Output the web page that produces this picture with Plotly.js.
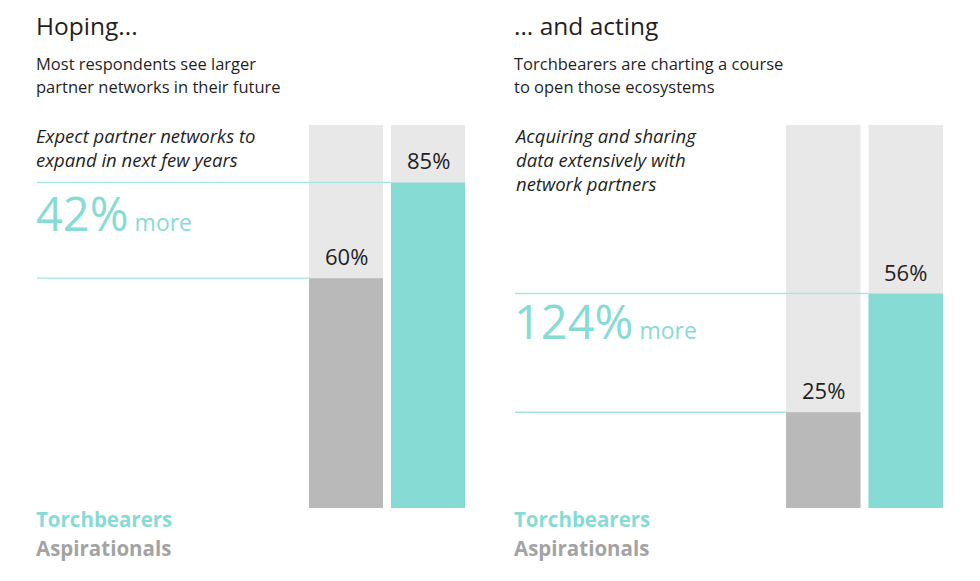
<!DOCTYPE html>
<html>
<head>
<meta charset="utf-8">
<script src="https://cdn.plot.ly/plotly-3.0.1.min.js"></script>
<style>html,body{margin:0;padding:0;background:#fff;}#chart{width:980px;height:581px;}</style>
</head>
<body>
<div id="chart"></div>
<script>
// ---- data ----
var groups = ["Aspirationals", "Torchbearers"];
var fullScale = [100, 100];
var leftValues = [60, 85];
var rightValues = [25, 56];
var leftTitle = "Hoping...";
var leftSubtitle = ["Most respondents see larger", "partner networks in their future"];
var leftQuestion = ["Expect partner networks to", "expand in next few years"];
var rightTitle = "... and acting";
var rightSubtitle = ["Torchbearers are charting a course", "to open those ecosystems"];
var rightQuestion = ["Acquiring and sharing", "data extensively with", "network partners"];

// ---- style ----
var W = 980, H = 581, T = 125, B = 73;
var teal = "#86dcd5", grayBar = "#b9b9b9", bgBar = "#e8e8e8", lineCol = "#a6e6e0";
var dark = "#1f1f1f", legendGray = "#a3a3a3";
var FONT = "'Open Sans', 'Noto Sans', sans-serif";
var bargap = 8 / 82;
var leftDomain = [305 / W, 469 / W];
var rightDomain = [782 / W, 947 / W];

function px(x) { return x / W; }
function py(y) { return (H - B - y) / (H - T - B); }
function barLeft(dom, idx) {
  var cw = (dom[1] - dom[0]) / 2;
  var bw = cw * (1 - bargap);
  return dom[0] + (idx + 0.5) * cw - bw / 2;
}
function pct(v) { return v + "%"; }
function more(vals) { return Math.round((vals[1] - vals[0]) / vals[0] * 100) + "%"; }

var traces = [
  {type: "bar", x: groups, y: fullScale, xaxis: "x", yaxis: "y", marker: {color: bgBar}, hoverinfo: "skip", showlegend: false},
  {type: "bar", x: groups, y: leftValues, xaxis: "x", yaxis: "y", marker: {color: [grayBar, teal]}, hoverinfo: "skip", showlegend: false},
  {type: "bar", x: groups, y: fullScale, xaxis: "x2", yaxis: "y", marker: {color: bgBar}, hoverinfo: "skip", showlegend: false},
  {type: "bar", x: groups, y: rightValues, xaxis: "x2", yaxis: "y", marker: {color: [grayBar, teal]}, hoverinfo: "skip", showlegend: false}
];

var ann = [];
function txt(text, x, y, size, opts) {
  opts = opts || {};
  ann.push({
    text: text, xref: "paper", yref: "paper", x: px(x), y: py(y), xshift: -3,
    xanchor: "left", yanchor: opts.yanchor || "middle", align: "left", showarrow: false,
    font: {family: FONT, size: size, color: opts.color || dark, weight: opts.weight || 400, style: opts.style || "normal"}
  });
}

function panel(x0, title, sub, q, vals, axis) {
  txt(title, x0, 25, 24.5);
  sub.forEach(function (s, i) { txt(s, x0, 64 + i * 22, 16.5); });
  txt(q.join("<br>"), x0, 121, 18.5, {style: "italic", yanchor: "top"});
  vals.forEach(function (v, i) {
    ann.push({
      text: pct(v), xref: axis, yref: "y", x: groups[i], y: v,
      xanchor: "center", yanchor: "bottom", yshift: 5, showarrow: false,
      font: {family: FONT, size: 22, color: dark}
    });
  });
}
panel(37, leftTitle, leftSubtitle, leftQuestion, leftValues, "x");
panel(515, rightTitle, rightSubtitle, rightQuestion, rightValues, "x2");

function bigMore(x0, vals, yPix) {
  ann.push({
    text: '<span style="font-size:47px">' + more(vals) + '</span> more',
    xref: "paper", yref: "paper", x: px(x0), y: py(yPix), xshift: -3,
    xanchor: "left", yanchor: "middle", showarrow: false,
    font: {family: FONT, size: 23, color: teal}
  });
}
bigMore(37, leftValues, 213);
bigMore(515, rightValues, 321);

[37, 515].forEach(function (x0) {
  txt(groups[1], x0, 519, 20.5, {color: teal, weight: 700});
  txt(groups[0], x0, 548, 20.5, {color: legendGray, weight: 700});
});

var shapes = [];
function guides(x0, vals, dom) {
  vals.forEach(function (v, i) {
    shapes.push({
      type: "line", xref: "paper", yref: "y", x0: px(x0), x1: barLeft(dom, i), y0: v, y1: v,
      line: {color: lineCol, width: 1.3}, layer: "above"
    });
  });
}
guides(37, leftValues, leftDomain);
guides(515, rightValues, rightDomain);

var layout = {
  width: W, height: H,
  margin: {l: 0, r: 0, t: T, b: B, pad: 0},
  paper_bgcolor: "#ffffff", plot_bgcolor: "rgba(0,0,0,0)",
  barmode: "overlay", bargap: bargap,
  xaxis: {domain: leftDomain, visible: false, fixedrange: true, type: "category", range: [-0.5, 1.5]},
  xaxis2: {domain: rightDomain, visible: false, fixedrange: true, type: "category", range: [-0.5, 1.5], anchor: "y"},
  yaxis: {range: [0, 100], visible: false, fixedrange: true},
  annotations: ann, shapes: shapes, showlegend: false,
  font: {family: FONT}
};

Plotly.newPlot("chart", traces, layout, {displayModeBar: false, staticPlot: true});
</script>
</body>
</html>
